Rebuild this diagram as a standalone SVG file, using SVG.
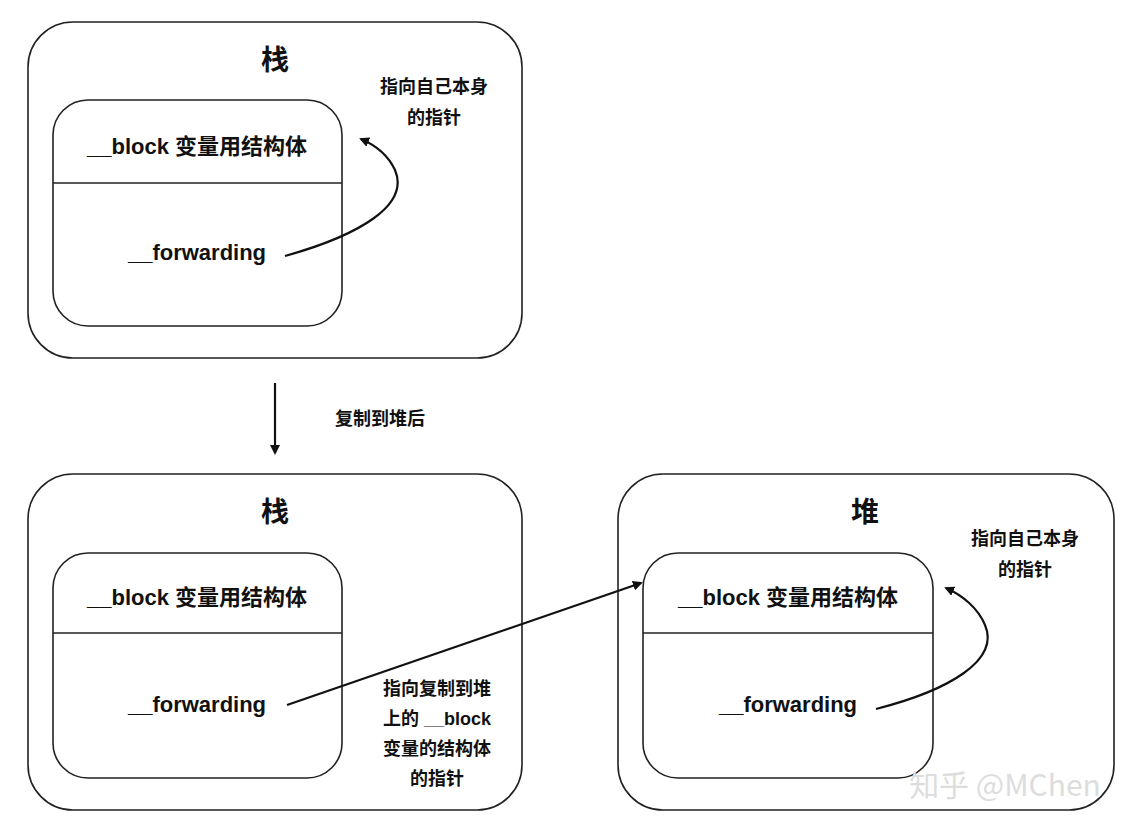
<svg xmlns="http://www.w3.org/2000/svg" width="1146" height="830" viewBox="0 0 1146 830">
<style>
.box{fill:none;stroke:#222;stroke-width:1.6}
.t{font-family:"Liberation Sans","Noto Sans CJK SC",sans-serif;font-weight:bold;fill:#111;text-anchor:middle}
.h{font-size:28px}.m{font-size:22px}.s{font-size:18px}
.c{fill:none;stroke:#111;stroke-width:2.2}
</style>
<defs><marker id="a" markerWidth="10" markerHeight="10" refX="8" refY="5" orient="auto" markerUnits="userSpaceOnUse" viewBox="0 0 10 10"><path d="M0,0 L10,5 L0,10 Z" fill="#111"/></marker></defs>
<rect width="1146" height="830" fill="#fff"/>
<g id="stack1">
<rect class="box" x="28" y="22" width="494" height="336" rx="45"/>
<text class="t h" x="275" y="70">栈</text>
<rect class="box" x="53" y="100" width="289" height="226" rx="35"/>
<line class="box" x1="53" y1="183" x2="342" y2="183"/>
<text class="t m" x="197" y="154">__block 变量用结构体</text>
<text class="t m" x="197" y="260">__forwarding</text>
<text class="t s" x="434" y="93">指向自己本身</text>
<text class="t s" x="434" y="124">的指针</text>
</g>
<g id="stack2">
<rect class="box" x="28" y="474" width="494" height="336" rx="45"/>
<text class="t h" x="275" y="522">栈</text>
<rect class="box" x="53" y="553" width="289" height="225" rx="35"/>
<line class="box" x1="53" y1="633" x2="342" y2="633"/>
<text class="t m" x="197" y="605">__block 变量用结构体</text>
<text class="t m" x="197" y="712">__forwarding</text>
</g>
<g id="heap">
<rect class="box" x="618" y="474" width="496" height="336" rx="45"/>
<text class="t h" x="865" y="522">堆</text>
<rect class="box" x="643" y="553" width="290" height="225" rx="35"/>
<line class="box" x1="643" y1="633" x2="933" y2="633"/>
<text class="t m" x="788" y="605">__block 变量用结构体</text>
<text class="t m" x="788" y="712">__forwarding</text>
<text class="t s" x="1025" y="545">指向自己本身</text>
<text class="t s" x="1025" y="576">的指针</text>
</g>
<g id="connectors">
<path class="c" d="M285,256 C360,235 410,205 395,170 C388,155 375,145 361,139" marker-end="url(#a)"/>
<line class="c" x1="275" y1="383" x2="275" y2="453" marker-end="url(#a)"/>
<line class="c" x1="287" y1="705" x2="641" y2="583" marker-end="url(#a)"/>
<path class="c" d="M876,709 C950,690 1000,660 985,625 C978,608 962,595 946,588" marker-end="url(#a)"/>
</g>
<text class="t s" x="380" y="425">复制到堆后</text>
<text class="t s" x="437" y="695">指向复制到堆</text>
<text class="t s" x="437" y="725">上的 __block</text>
<text class="t s" x="437" y="755">变量的结构体</text>
<text class="t s" x="437" y="785">的指针</text>
<text x="1005" y="796" font-family="'Noto Sans CJK SC',sans-serif" font-size="30" fill="#ddd" text-anchor="middle">知乎 @MChen</text>
</svg>
